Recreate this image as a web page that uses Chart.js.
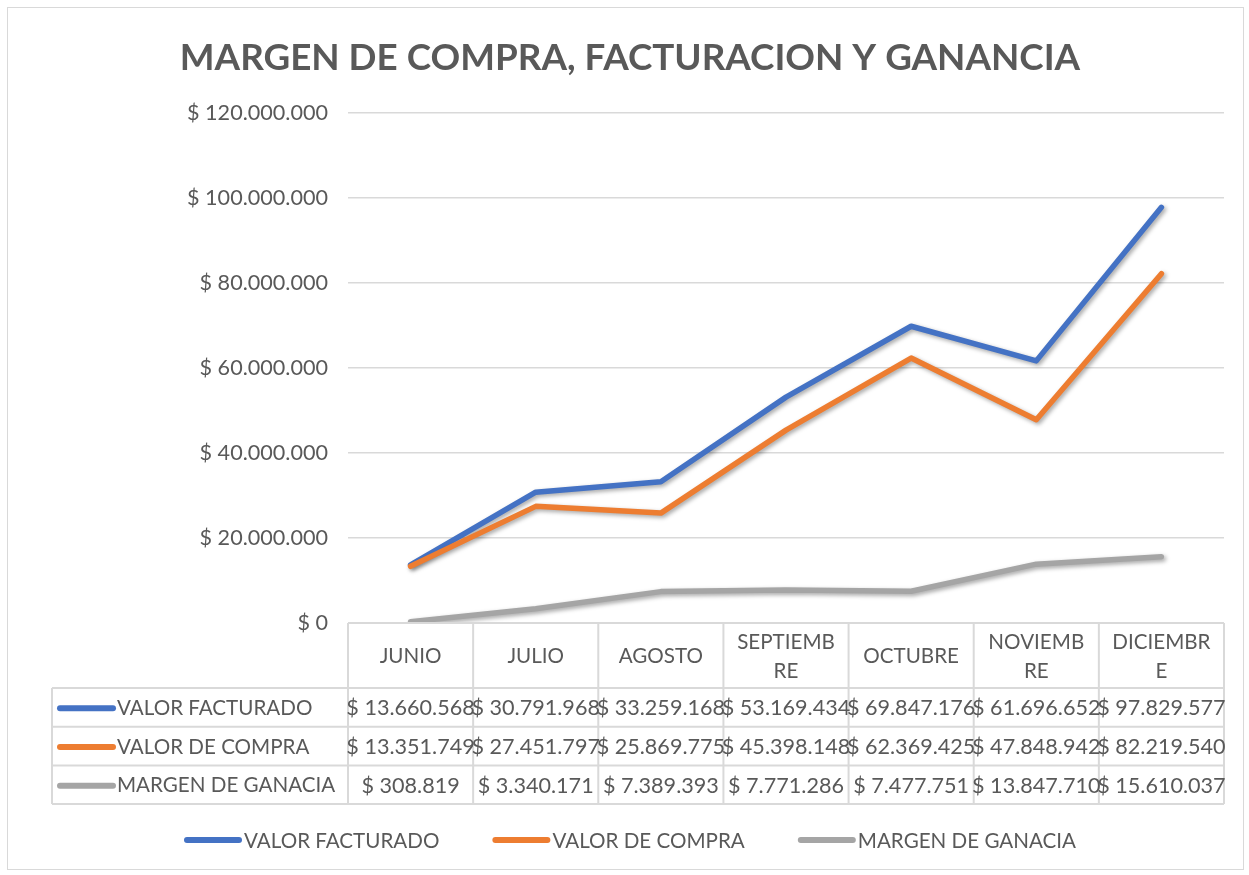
<!DOCTYPE html>
<html lang="es">
<head>
<meta charset="utf-8">
<title>Margen de compra, facturación y ganancia</title>
<script src="https://cdn.jsdelivr.net/npm/chart.js@4.4.1/dist/chart.umd.min.js"></script>
<style>
    html, body { margin: 0; padding: 0; background: #ffffff; }
    #marco { position: absolute; left: 7px; top: 7px; width: 1235px; height: 861px; border: 1px solid #d9d9d9; }
    #grafico { position: absolute; left: 0; top: 0; }
</style>
</head>
<body>
<div id="marco"></div>
<canvas id="grafico" width="1249" height="875"></canvas>
<script>
// Meses (como se cortan en la cabecera de la tabla)
const meses = ['JUNIO', 'JULIO', 'AGOSTO', ['SEPTIEMB', 'RE'], 'OCTUBRE', ['NOVIEMB', 'RE'], ['DICIEMBR', 'E']];

// Series
const valorFacturado = [13660568, 30791968, 33259168, 53169434, 69847176, 61696652, 97829577];
const valorCompra = [13351749, 27451797, 25869775, 45398148, 62369425, 47848942, 82219540];
const margenGanancia = [308819, 3340171, 7389393, 7771286, 7477751, 13847710, 15610037];

// Eje vertical
const ejeMin = 0;
const ejeMax = 120000000;
const ejePaso = 20000000;

const FUENTE = 'Lato, "Open Sans", sans-serif';
const GRIS_TEXTO = '#595959';
const GRIS_LINEA = '#d9d9d9';
const TXT = '20.6px ' + FUENTE;
const NUM = '21.6px ' + FUENTE;

function pesos(v) {
    return '$ ' + String(Math.round(v)).replace(/\B(?=(\d{3})+(?!\d))/g, '.');
}

// Sombra suave bajo las líneas
const sombraLineas = {
    id: 'sombraLineas',
    beforeDatasetsDraw(chart) {
        const c = chart.ctx;
        c.save();
        c.shadowColor = 'rgba(0, 0, 0, 0.35)';
        c.shadowBlur = 4;
        c.shadowOffsetX = 2;
        c.shadowOffsetY = 2;
    },
    afterDatasetsDraw(chart) {
        chart.ctx.restore();
    }
};

// Tabla de datos bajo el eje y leyenda inferior
const tablaDatos = {
    id: 'tablaDatos',
    afterDraw(chart) {
        const { ctx, chartArea, scales: { x } } = chart;
        const etiquetas = chart.data.labels;
        const n = etiquetas.length;
        const ancho = (chartArea.right - chartArea.left) / n;
        const izq = 52;
        const yCab = chartArea.bottom;
        const altoCab = 65;
        const altoFila = 38.7;
        const yFin = yCab + altoCab + altoFila * chart.data.datasets.length;

        ctx.save();
        ctx.strokeStyle = GRIS_LINEA;
        ctx.lineWidth = 2;
        ctx.beginPath();
        ctx.moveTo(chartArea.left, yCab);
        ctx.lineTo(chartArea.right, yCab);
        for (let r = 0; r <= chart.data.datasets.length; r++) {
            const y = yCab + altoCab + r * altoFila;
            ctx.moveTo(izq, y);
            ctx.lineTo(chartArea.right, y);
        }
        for (let i = 0; i <= n; i++) {
            const xx = chartArea.left + i * ancho;
            ctx.moveTo(xx, yCab);
            ctx.lineTo(xx, yFin);
        }
        ctx.moveTo(izq, yCab + altoCab);
        ctx.lineTo(izq, yFin);
        ctx.stroke();

        ctx.fillStyle = GRIS_TEXTO;
        ctx.font = TXT;
        ctx.textAlign = 'center';
        ctx.textBaseline = 'middle';

        // cabecera con los meses
        etiquetas.forEach((lab, i) => {
            const lineas = [].concat(lab);
            const cx = x.getPixelForValue(i);
            lineas.forEach((t, k) => {
                ctx.fillText(t, cx, yCab + altoCab / 2 + 1 + (k - (lineas.length - 1) / 2) * 29);
            });
        });

        // filas de valores
        chart.data.datasets.forEach((ds, r) => {
            const cy = yCab + altoCab + altoFila * (r + 0.5) + 1;
            ctx.strokeStyle = ds.borderColor;
            ctx.lineWidth = 6;
            ctx.lineCap = 'round';
            ctx.beginPath();
            ctx.moveTo(izq + 8, cy);
            ctx.lineTo(izq + 61, cy);
            ctx.stroke();
            ctx.font = TXT;
            ctx.textAlign = 'left';
            ctx.fillText(ds.label, izq + 65, cy);
            ctx.font = NUM;
            ctx.textAlign = 'center';
            ds.data.forEach((v, i) => {
                ctx.fillText(pesos(v), x.getPixelForValue(i), cy);
            });
        });

        // leyenda
        ctx.font = TXT;
        const muestra = 58, hueco = 2, separa = 53;
        const anchos = chart.data.datasets.map(ds => muestra + hueco + ctx.measureText(ds.label).width);
        const total = anchos.reduce((a, b) => a + b, 0) + separa * (anchos.length - 1);
        const centro = (chart.titleBlock.left + chart.titleBlock.right) / 2;
        const yLey = 840;
        let xx = centro - total / 2;
        chart.data.datasets.forEach((ds, r) => {
            ctx.strokeStyle = ds.borderColor;
            ctx.lineWidth = 6;
            ctx.beginPath();
            ctx.moveTo(xx + 3, yLey);
            ctx.lineTo(xx + muestra - 3, yLey);
            ctx.stroke();
            ctx.textAlign = 'left';
            ctx.fillText(ds.label, xx + muestra + hueco, yLey + 1);
            xx += anchos[r] + separa;
        });
        ctx.restore();
    }
};

const ctx = document.getElementById('grafico').getContext('2d');
new Chart(ctx, {
    type: 'line',
    data: {
        labels: meses,
        datasets: [
            {
                label: 'VALOR FACTURADO',
                data: valorFacturado,
                borderColor: '#4472c4',
                backgroundColor: '#4472c4',
                order: 2
            },
            {
                label: 'VALOR DE COMPRA',
                data: valorCompra,
                borderColor: '#ed7d31',
                backgroundColor: '#ed7d31',
                order: 1
            },
            {
                label: 'MARGEN DE GANACIA',
                data: margenGanancia,
                borderColor: '#a5a5a5',
                backgroundColor: '#a5a5a5',
                order: 0
            }
        ]
    },
    options: {
        responsive: false,
        animation: false,
        devicePixelRatio: 1,
        datasets: {
            line: {
                borderWidth: 5.5,
                borderCapStyle: 'round',
                borderJoinStyle: 'round',
                tension: 0,
                pointRadius: 0,
                fill: false
            }
        },
        layout: {
            padding: { left: 36, right: 25, top: 0, bottom: 0 }
        },
        plugins: {
            legend: { display: false },
            tooltip: { enabled: false },
            title: {
                display: true,
                text: 'MARGEN DE COMPRA, FACTURACION Y GANANCIA',
                color: GRIS_TEXTO,
                font: { family: FUENTE, size: 36.8, weight: 'bold' },
                padding: { top: 36, bottom: 33 }
            }
        },
        scales: {
            x: {
                offset: true,
                grid: { display: false },
                border: { display: false },
                ticks: { display: false },
                afterFit(scale) {
                    scale.height = 252;
                }
            },
            y: {
                min: ejeMin,
                max: ejeMax,
                grid: { color: GRIS_LINEA, lineWidth: 1.5, drawTicks: false },
                border: { display: false },
                ticks: {
                    stepSize: ejePaso,
                    padding: 20,
                    color: GRIS_TEXTO,
                    font: { family: FUENTE, size: 21.6 },
                    callback: v => pesos(v)
                },
                afterFit(scale) {
                    scale.width = 312;
                }
            }
        }
    },
    plugins: [sombraLineas, tablaDatos]
});
</script>
</body>
</html>
